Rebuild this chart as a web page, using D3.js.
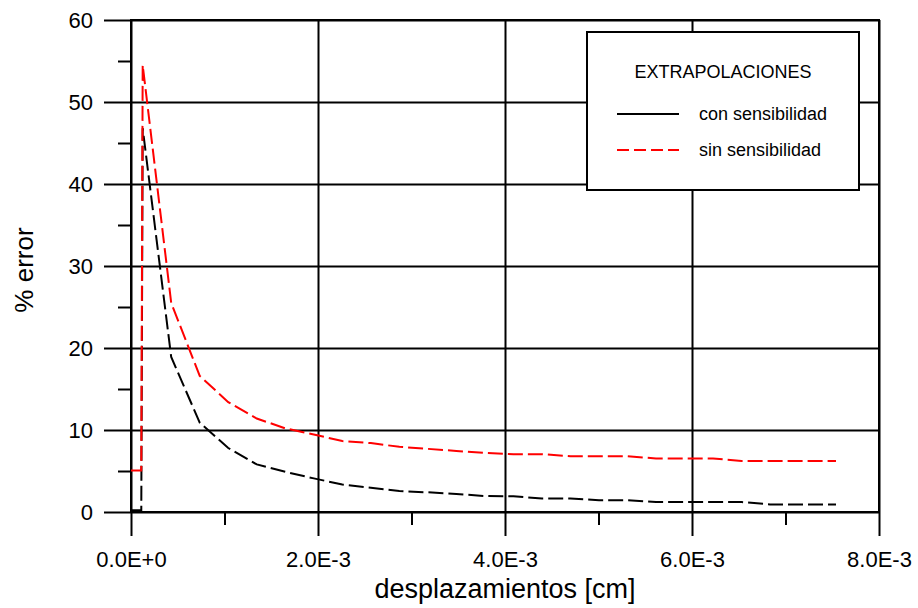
<!DOCTYPE html>
<html>
<head>
<meta charset="utf-8">
<script src="https://cdn.jsdelivr.net/npm/d3@7"></script>
<style>
  body { margin: 0; background: #fff; }
  svg { display: block; font-family: "Liberation Sans", Arial, sans-serif; }
</style>
</head>
<body>
<div id="chart"></div>
<script>
// displacement values [cm]
const desplazamientos = [0, 0.11e-3, 0.125e-3, 0.43e-3, 0.735e-3, 1.04e-3, 1.345e-3, 1.65e-3,
  1.955e-3, 2.26e-3, 2.565e-3, 2.87e-3, 3.175e-3, 3.48e-3, 3.785e-3, 4.09e-3, 4.395e-3,
  4.70e-3, 5.005e-3, 5.31e-3, 5.615e-3, 5.92e-3, 6.225e-3, 6.53e-3, 6.835e-3, 7.14e-3, 7.54e-3];
// % error, with sensitivity (black)
const conSensibilidad = [0.2, 0.2, 46.8, 18.9, 10.9, 7.8, 5.8, 4.9,
  4.1, 3.35, 2.95, 2.55, 2.4, 2.2, 1.95, 1.92, 1.64,
  1.64, 1.43, 1.43, 1.22, 1.22, 1.22, 1.22, 0.92, 0.92, 0.92];
// % error, without sensitivity (red)
const sinSensibilidad = [5.05, 5.05, 54.5, 25.5, 16.6, 13.4, 11.4, 10.2,
  9.45, 8.65, 8.4, 7.95, 7.7, 7.45, 7.2, 7.05, 7.05,
  6.8, 6.8, 6.8, 6.52, 6.52, 6.52, 6.23, 6.23, 6.23, 6.23];

const xTicks = [0, 2e-3, 4e-3, 6e-3, 8e-3];
const xTickLabels = ["0.0E+0", "2.0E-3", "4.0E-3", "6.0E-3", "8.0E-3"];
const xMinor = [1e-3, 3e-3, 5e-3, 7e-3];
const yTicks = [0, 10, 20, 30, 40, 50, 60];
const yMinor = [5, 15, 25, 35, 45, 55];
const legendTitle = "EXTRAPOLACIONES";
const seriesNames = ["con sensibilidad", "sin sensibilidad"];

const W = 918, H = 608;
const m = { left: 131, right: 39, top: 20, bottom: 96 };
const iw = W - m.left - m.right, ih = H - m.top - m.bottom;

const svg = d3.select("#chart").append("svg")
    .attr("width", W).attr("height", H);

const x = d3.scaleLinear().domain([0, 8e-3]).range([0, iw]);
const y = d3.scaleLinear().domain([0, 60]).range([ih, 0]);

const g = svg.append("g").attr("transform", `translate(${m.left},${m.top})`);

// grid lines
g.append("g")
    .attr("transform", `translate(0,${ih})`)
    .call(d3.axisBottom(x).tickValues(xTicks).tickSize(-ih).tickFormat(""))
    .call(a => a.select(".domain").remove())
    .selectAll("line").attr("stroke", "#000").attr("stroke-width", 2);
g.append("g")
    .call(d3.axisLeft(y).tickValues(yTicks).tickSize(-iw).tickFormat(""))
    .call(a => a.select(".domain").remove())
    .selectAll("line").attr("stroke", "#000").attr("stroke-width", 2);

// major ticks + labels
g.append("g")
    .attr("transform", `translate(0,${ih})`)
    .call(d3.axisBottom(x).tickValues(xTicks).tickSize(24).tickPadding(15)
      .tickFormat((d, i) => xTickLabels[i]));
g.append("g")
    .call(d3.axisLeft(y).tickValues(yTicks).tickSize(27).tickPadding(11));
// minor ticks
g.append("g")
    .attr("transform", `translate(0,${ih})`)
    .call(d3.axisBottom(x).tickValues(xMinor).tickSize(13).tickFormat(""));
g.append("g")
    .call(d3.axisLeft(y).tickValues(yMinor).tickSize(13).tickFormat(""));

g.selectAll(".domain").remove();
g.selectAll(".tick line").attr("stroke", "#000").attr("stroke-width", 2);
g.selectAll(".tick text")
    .attr("fill", "#000")
    .style("font-size", "22px")
    .style("font-family", "'Liberation Sans', Arial, sans-serif");

// frame
g.append("rect")
    .attr("width", iw).attr("height", ih)
    .attr("fill", "none").attr("stroke", "#000").attr("stroke-width", 2);

// series
const line = d3.line().x(d => x(d[0])).y(d => y(d[1]));
g.append("path")
    .datum(desplazamientos.map((d, i) => [d, conSensibilidad[i]]))
    .attr("d", line)
    .attr("fill", "none").attr("stroke", "#000")
    .attr("stroke-width", 2).attr("stroke-dasharray", "15,5");
g.append("path")
    .datum(desplazamientos.map((d, i) => [d, sinSensibilidad[i]]))
    .attr("d", line)
    .attr("fill", "none").attr("stroke", "#ff0000")
    .attr("stroke-width", 2).attr("stroke-dasharray", "15,5");

// axis titles
svg.append("text")
    .attr("x", m.left + iw / 2).attr("y", 598)
    .attr("text-anchor", "middle")
    .style("font-size", "27px")
    .text("desplazamientos [cm]");
svg.append("text")
    .attr("transform", `translate(33,${m.top + ih / 2 + 4}) rotate(-90)`)
    .attr("text-anchor", "middle")
    .style("font-size", "26px")
    .text("% error");

// legend
const leg = svg.append("g").attr("transform", "translate(587,32)");
leg.append("rect")
    .attr("width", 272).attr("height", 158)
    .attr("fill", "#fff").attr("stroke", "#000").attr("stroke-width", 2);
leg.append("text")
    .attr("x", 136).attr("y", 46)
    .attr("text-anchor", "middle")
    .style("font-size", "18px")
    .text(legendTitle);
const legStyles = [
  { stroke: "#000", dash: null },
  { stroke: "#ff0000", dash: "12,5" }
];
seriesNames.forEach((name, i) => {
  const yy = 82 + i * 36;
  leg.append("line")
      .attr("x1", 30).attr("x2", 92).attr("y1", yy).attr("y2", yy)
      .attr("stroke", legStyles[i].stroke).attr("stroke-width", 2)
      .attr("stroke-dasharray", legStyles[i].dash);
  leg.append("text")
      .attr("x", 112).attr("y", yy + 6)
      .style("font-size", "18px")
      .text(name);
});
</script>
</body>
</html>
